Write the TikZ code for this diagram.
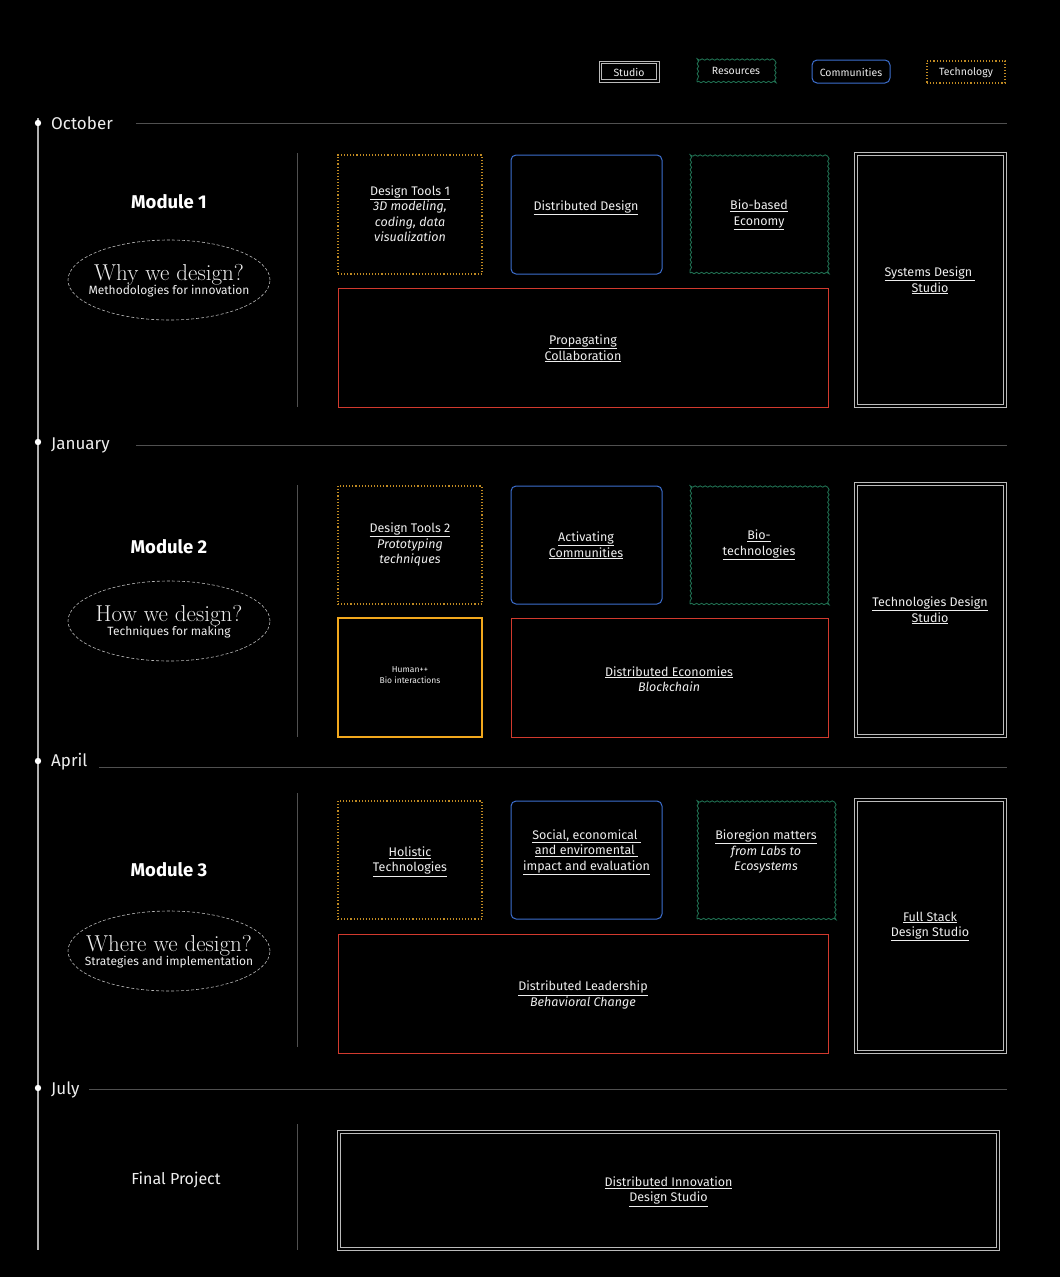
\documentclass[tikz,border=0pt]{standalone}
\usepackage{fontspec}
\setsansfont{Fira Sans}
\usetikzlibrary{shapes.geometric,decorations.pathmorphing}
\newcommand\ulx[1]{\underline{#1}}
\definecolor{txtc}{HTML}{EEEEEE}
\definecolor{techc}{HTML}{C08A22}
\definecolor{commc}{HTML}{3D6FCF}
\definecolor{resc}{HTML}{1F6E50}
\definecolor{redc}{HTML}{D23A2E}
\definecolor{orgc}{HTML}{F2A81D}
\definecolor{studc}{HTML}{BBBBBB}
\definecolor{linec}{HTML}{505050}
\definecolor{timec}{HTML}{B0B0B0}
\tikzset{
  txt/.style={font=\sffamily\fontsize{12.5}{15.5}\selectfont, text=txtc, align=center, inner sep=0pt, yshift=-2pt},
  small/.style={font=\sffamily\fontsize{8.5}{11}\selectfont, text=txtc, align=center, inner sep=0pt, yshift=-1pt},
  legtxt/.style={font=\sffamily\fontsize{10.5}{12}\selectfont, text=txtc, align=center, inner sep=0pt},
  sz/.style n args={2}{minimum width=#1, minimum height=#2, inner sep=0pt},
  techbox/.style={rectangle, draw=techc, line width=1.1pt, dash pattern=on 1.1pt off 2pt},
  commbox/.style={rectangle, draw=commc, line width=1pt, rounded corners=5pt},
  resbox/.style={rectangle, draw=resc, line width=0.9pt, decorate, decoration={snake, amplitude=0.7pt, segment length=5pt}},
  redbox/.style={rectangle, draw=redc, line width=1pt},
  orgbox/.style={rectangle, draw=orgc, line width=1.2pt},
  studioout/.style={rectangle, draw=studc, line width=0.9pt},
  studioin/.style={rectangle, draw=studc, line width=0.9pt},
  month/.style={font=\sffamily\fontsize{17}{20}\selectfont, text=txtc, anchor=west, inner sep=0pt},
  modname/.style={font=\sffamily\bfseries\fontsize{18.5}{20}\selectfont, text=white, inner sep=0pt},
  whyell/.style={ellipse, draw=studc, line width=0.6pt, dash pattern=on 3pt off 2pt, minimum width=202pt, minimum height=80pt, inner sep=0pt},
  whytxt/.style={align=center, text=txtc, inner sep=0pt},
  hline/.style={draw=linec, line width=0.8pt},
  sepline/.style={draw=linec, line width=1pt},
}
\newcommand\whycontent[2]{{\rmfamily\fontsize{23}{23}\selectfont #1}\\[-1pt]{\sffamily\fontsize{12}{14}\selectfont #2}}
% studio box: outer node + inner node, names #1 and #1i
\newcommand\studio[6]{%
  \node[studioout, sz={#4}{#5}] (#1) at (#2,#3) {};
  \node[studioin, minimum width=#4-#6, minimum height=#5-#6, inner sep=0pt] (#1i) at (#2,#3) {};
}
\begin{document}
\begin{tikzpicture}[x=1pt,y=-1pt]
\useasboundingbox (0,0) rectangle (1060,1277);
\fill[black] (0,0) rectangle (1060,1277);

% legend
\studio{lgs}{629}{71.5}{60pt}{21pt}{5pt}
\node[legtxt] (lgst) at (629,72) {Studio};
\node[resbox, sz={78pt}{22pt}] (lgr) at (736,71) {};
\node[legtxt] (lgrt) at (736,71) {Resources};
\node[commbox, sz={78pt}{23pt}] (lgc) at (851,71.5) {};
\node[legtxt] (lgct) at (851,72) {Communities};
\node[techbox, sz={78pt}{22pt}] (lgt) at (966,72) {};
\node[legtxt] (lgtt) at (966,73) {Technology};

% timeline
\draw[timec, line width=1.5pt] (38,118) -- (38,1250);
\foreach \yy in {123,442,761,1088} \fill[white] (38,\yy) circle (3.2pt);
\node[month] (oct) at (51,123) {October};
\node[month] (jan) at (51,445) {January};
\node[month] (apr) at (51,762) {April};
\node[month] (jul) at (51,1090) {July};
\draw[hline] (136,123) -- (1007,123);
\draw[hline] (136,445) -- (1007,445);
\draw[hline] (99,767) -- (1007,767);
\draw[hline] (89,1089) -- (1007,1089);

% separators
\draw[sepline] (297,153) -- (297,407);
\draw[sepline] (297,485) -- (297,737);
\draw[sepline] (297,793) -- (297,1047);
\draw[sepline] (297,1124) -- (297,1250);

% module labels
\node[modname] (m1) at (169,202) {Module 1};
\node[modname] (m2) at (169,547) {Module 2};
\node[modname] (m3) at (169,870) {Module 3};
\node[font=\sffamily\fontsize{16}{18}\selectfont, text=txtc, inner sep=0pt] (fp) at (176,1180) {Final Project};
\node[whyell] (e1) at (169,280) {};
\node[whytxt] (e1t) at (169,281) {\whycontent{Why we design?}{Methodologies for innovation}};
\node[whyell] (e2) at (169,621) {};
\node[whytxt] (e2t) at (169,622) {\whycontent{How we design?}{Techniques for making}};
\node[whyell] (e3) at (169,951) {};
\node[whytxt] (e3t) at (169,952) {\whycontent{Where we design?}{Strategies and implementation}};

% module 1
\node[techbox, sz={144pt}{119pt}] (dt1) at (410,214.5) {};
\node[txt] (dt1t) at (410,211.5) {\ulx{Design Tools 1}\\\textit{3D modeling,}\\\textit{coding, data}\\\textit{visualization}};
\node[commbox, sz={151pt}{119pt}] (dd) at (586.5,214.5) {};
\node[txt] (ddt) at (586,206) {\ulx{Distributed Design}};
\node[resbox, sz={138pt}{118pt}] (bio) at (759,214) {};
\node[txt] (biot) at (759,213) {\ulx{Bio-based}\\\ulx{Economy}};
\node[redbox, sz={490pt}{119pt}] (prop) at (583,347.5) {};
\node[txt] (propt) at (583,346.5) {\ulx{Propagating}\\\ulx{Collaboration}};
\studio{sds}{930.5}{279.5}{152pt}{255pt}{6pt}
\node[txt] (sdst) at (930,278.5) {\ulx{Systems Design }\\\ulx{Studio}};

% module 2
\node[techbox, sz={144pt}{118pt}] (dt2) at (410,545) {};
\node[txt] (dt2t) at (410,542.5) {\ulx{Design Tools 2}\\\textit{Prototyping}\\\textit{techniques}};
\node[commbox, sz={151pt}{118pt}] (act) at (586.5,545) {};
\node[txt] (actt) at (586,543.5) {\ulx{Activating}\\\ulx{Communities}};
\node[resbox, sz={138pt}{118pt}] (btc) at (759,545) {};
\node[txt] (btct) at (759,543) {\ulx{Bio-}\\\ulx{technologies}};
\node[orgbox, sz={144pt}{119pt}] (hum) at (410,677.5) {};
\node[small] (humt) at (410,674.5) {Human++\\Bio interactions};
\node[redbox, sz={317pt}{119pt}] (dec) at (669.5,677.5) {};
\node[txt] (dect) at (669,677) {\ulx{Distributed Economies}\\\textit{Blockchain}};
\studio{tds}{930.5}{609.5}{152pt}{255pt}{6pt}
\node[txt] (tdst) at (930,608.5) {\ulx{Technologies Design}\\\ulx{Studio}};

% module 3
\node[techbox, sz={144pt}{118pt}] (hol) at (410,860) {};
\node[txt] (holt) at (410,859.5) {\ulx{Holistic}\\\ulx{Technologies}};
\node[commbox, sz={151pt}{118pt}] (soc) at (586.5,860) {};
\node[txt] (soct) at (586.5,850) {\ulx{Social, economical }\\\ulx{and enviromental }\\\ulx{impact and evaluation}};
\node[resbox, sz={138pt}{118pt}] (bior) at (766,860) {};
\node[txt] (biort) at (766,849.5) {\ulx{Bioregion matters}\\\textit{from Labs to}\\\textit{Ecosystems}};
\node[redbox, sz={490pt}{119pt}] (lead) at (583,993.5) {};
\node[txt] (leadt) at (583,993) {\ulx{Distributed Leadership}\\\textit{Behavioral Change}};
\studio{fsd}{930.5}{925.5}{152pt}{255pt}{6pt}
\node[txt] (fsdt) at (930,924.5) {\ulx{Full Stack}\\\ulx{Design Studio}};

% final
\studio{fin}{668.5}{1190}{662pt}{120pt}{6pt}
\node[txt] (fint) at (668.5,1189.5) {\ulx{Distributed Innovation}\\\ulx{Design Studio}};
\end{tikzpicture}
\end{document}
